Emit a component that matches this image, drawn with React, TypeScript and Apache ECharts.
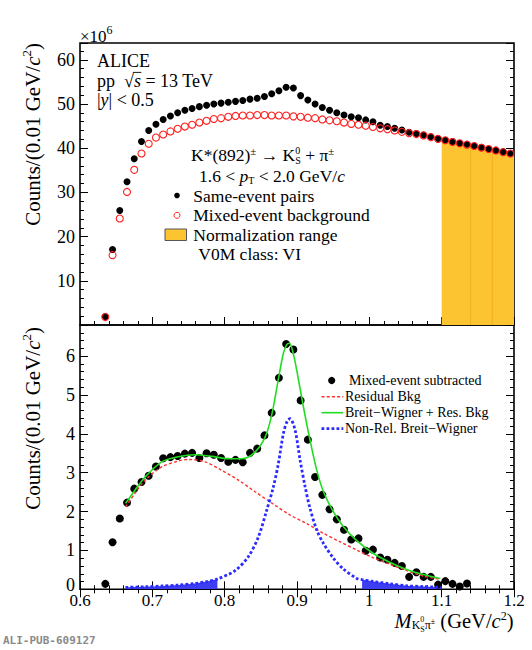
import React, { useEffect, useRef } from "react";
import * as echarts from "echarts";

// ---------- data ----------
const binX = [
  0.635, 0.645, 0.655, 0.665, 0.675, 0.685, 0.695, 0.705, 0.715, 0.725,
  0.735, 0.745, 0.755, 0.765, 0.775, 0.785, 0.795, 0.805, 0.815, 0.825,
  0.835, 0.845, 0.855, 0.865, 0.875, 0.885, 0.895, 0.905, 0.915, 0.925,
  0.935, 0.945, 0.955, 0.965, 0.975, 0.985, 0.995, 1.005, 1.015, 1.025,
  1.035, 1.045, 1.055, 1.065, 1.075, 1.085, 1.095, 1.105, 1.115, 1.125,
  1.135, 1.145, 1.155, 1.165, 1.175, 1.185, 1.195,
];
const sameEvent = [
  1.9, 17.1, 25.9, 32.4, 37.6, 41.5, 44.0, 45.4, 46.5, 47.3,
  48.0, 48.6, 49.0, 49.4, 49.7, 50.0, 50.2, 50.4, 50.6, 50.8,
  51.1, 51.3, 51.7, 52.3, 53.0, 53.8, 53.6, 51.9, 50.9, 50.0,
  49.2, 48.6, 48.0, 47.5, 47.1, 46.9, 46.4, 46.0, 45.2, 44.9,
  44.5, 44.1, 43.6, 43.3, 43.0, 42.6, 42.2, 41.8, 41.5, 41.1,
  40.9, 40.5, 40.2, 39.8, 39.5, 39.2, 38.8,
];
const mixedEvent = [
  1.8, 15.8, 24.1, 30.1, 35.1, 38.8, 41.0, 42.4, 43.1, 43.8,
  44.4, 44.9, 45.3, 45.8, 46.2, 46.6, 46.8, 47.1, 47.3, 47.4,
  47.4, 47.5, 47.5, 47.4, 47.4, 47.4, 47.2, 47.1, 46.9, 46.8,
  46.5, 46.3, 46.1, 45.8, 45.5, 45.3, 45.1, 44.8, 44.5, 44.3,
  44.0, 43.7, 43.4, 43.2, 42.9, 42.5, 42.1, 41.8, 41.4, 41.1,
  40.8, 40.5, 40.1, 39.8, 39.5, 39.1, 38.8,
];
const normRangeX = [1.1, 1.14, 1.17, 1.2];
const normRangeTop = [42.0, 40.7, 39.6, 38.6];

const subX = [
  0.635, 0.645, 0.655, 0.665, 0.675, 0.685, 0.695, 0.705, 0.715, 0.725,
  0.735, 0.745, 0.755, 0.765, 0.775, 0.785, 0.795, 0.805, 0.815, 0.825,
  0.835, 0.845, 0.855, 0.865, 0.875, 0.885, 0.895, 0.905, 0.915, 0.925,
  0.935, 0.945, 0.955, 0.965, 0.975, 0.985, 0.995, 1.005, 1.015, 1.025,
  1.035, 1.045, 1.055, 1.065, 1.075, 1.085, 1.095, 1.105, 1.115, 1.125,
  1.135,
];
const subtracted = [
  0.14, 1.21, 1.82, 2.23, 2.59, 2.76, 2.92, 3.16, 3.37, 3.4,
  3.43, 3.49, 3.51, 3.38, 3.5, 3.46, 3.38, 3.28, 3.33, 3.27,
  3.51, 3.62, 3.96, 4.54, 5.44, 6.31, 6.17, 4.86, 3.85, 2.89,
  2.43, 2.06, 1.8, 1.53, 1.28, 1.31, 0.99, 1.02, 0.82, 0.76,
  0.68, 0.6, 0.32, 0.44, 0.32, 0.32, 0.12, 0.21, 0.14, 0.07,
  0.15,
];

// Residual background (red dashed)
const bkgX = [0.663, 0.676, 0.69, 0.713, 0.736, 0.749, 0.773, 0.796, 0.819, 0.842, 0.865, 0.8905, 0.9135, 0.9366, 0.9596, 0.9827, 1.0057, 1.0288, 1.0518, 1.0749, 1.097];
const bkgY = [2.12, 2.47, 2.81, 3.15, 3.3, 3.34, 3.28, 3.06, 2.81, 2.51, 2.22, 1.91, 1.69, 1.44, 1.22, 1.01, 0.81, 0.64, 0.48, 0.34, 0.26];

// Breit-Wigner + residual background (green)
const fitX = [0.663, 0.676, 0.69, 0.713, 0.736, 0.759, 0.782, 0.805, 0.824, 0.842, 0.856, 0.865, 0.874, 0.881, 0.886, 0.8895, 0.895, 0.8997, 0.9089, 0.9181, 0.9274, 0.9366, 0.9504, 0.9642, 0.9827, 1.0057, 1.0288, 1.0518, 1.0749, 1.098];
const fitY = [2.21, 2.55, 2.89, 3.28, 3.41, 3.46, 3.42, 3.36, 3.36, 3.53, 3.92, 4.48, 5.38, 6.06, 6.3, 6.33, 6.05, 5.63, 4.69, 3.83, 3.06, 2.51, 1.99, 1.61, 1.25, 0.92, 0.69, 0.51, 0.38, 0.28];

// Non-relativistic Breit-Wigner (blue dotted)
const bwX = [0.663, 0.69, 0.713, 0.736, 0.759, 0.775, 0.79, 0.8144, 0.8328, 0.8467, 0.8582, 0.8674, 0.8743, 0.8812, 0.8865, 0.8905, 0.8974, 0.9043, 0.9112, 0.918, 0.9274, 0.9366, 0.9504, 0.9642, 0.9827, 0.99, 1.0057, 1.0288, 1.0518, 1.0749, 1.1];
const bwY = [0.05, 0.065, 0.085, 0.11, 0.15, 0.2, 0.265, 0.48, 0.84, 1.35, 2.04, 2.64, 3.24, 4.01, 4.33, 4.39, 4.09, 3.32, 2.64, 2.08, 1.52, 1.18, 0.8, 0.52, 0.28, 0.25, 0.2, 0.14, 0.09, 0.07, 0.05];
const bwFillRanges = [
  [0.663, 0.79],
  [0.99, 1.1],
];

// ---------- text helpers ----------
const SERIF = '"Liberation Serif", "Times New Roman", serif';
const fontStr = (size: number, italic?: boolean) =>
  `${italic ? "italic " : ""}${size}px ${SERIF}`;
let mctx: CanvasRenderingContext2D | null = null;
function measure(t: string, size: number, italic?: boolean) {
  if (!mctx) mctx = document.createElement("canvas").getContext("2d");
  if (!mctx) return t.length * size * 0.5;
  mctx.font = fontStr(size, italic);
  return mctx.measureText(t).width;
}
function txt(x: number, y: number, text: string, size: number, italic?: boolean, color = "#000") {
  return {
    type: "text",
    x,
    y,
    z: 100,
    silent: true,
    style: {
      text,
      font: fontStr(size, italic),
      fill: color,
      align: "left",
      verticalAlign: "middle",
      textAlign: "left",
      textVerticalAlign: "middle",
    },
  };
}
type Piece = {
  t?: string;
  s?: number;
  i?: boolean;
  dy?: number;
  stack?: [string, string];
  dyA?: number;
  dyB?: number;
  over?: boolean;
};
function seq(x0: number, y: number, base: number, pieces: Piece[]) {
  const els: any[] = [];
  let x = x0;
  for (const p of pieces) {
    const size = p.s ?? base;
    if (p.stack) {
      const [a, b] = p.stack;
      els.push(txt(x, y + (p.dyA ?? 0), a, size));
      els.push(txt(x, y + (p.dyB ?? 0), b, size));
      x += Math.max(measure(a, size), measure(b, size));
      continue;
    }
    const t = p.t ?? "";
    const w = measure(t, size, p.i);
    els.push(txt(x, y + (p.dy ?? 0), t, size, p.i));
    if (p.over) {
      const ly = y - size * 0.45;
      els.push({
        type: "line",
        z: 100,
        silent: true,
        shape: { x1: x - 1, y1: ly, x2: x + w + 0.5, y2: ly },
        style: { stroke: "#000", lineWidth: 0.9 },
      });
    }
    x += w;
  }
  return { els, w: x - x0 };
}
function vTitle(cx: number, topY: number, base: number, pieces: Piece[]) {
  const r = seq(0, 0, base, pieces);
  return {
    type: "group",
    x: cx,
    y: topY + r.w,
    rotation: Math.PI / 2,
    children: r.els,
  };
}

const countsTitle: Piece[] = [
  { t: "Counts/(0.01 GeV/" },
  { t: "c", i: true },
  { t: "2", s: 13, dy: -7 },
  { t: ")" },
];

export default function App() {
  const ref = useRef<HTMLDivElement>(null);
  useEffect(() => {
    if (!ref.current) return;
    const chart = echarts.init(ref.current, undefined, { renderer: "svg" });
    const pairs = (xs: number[], ys: number[]) => xs.map((x, i) => [x, ys[i]]);

    const tickStyle = { show: true, inside: true, length: 8, lineStyle: { color: "#000", width: 1 } };
    const minorStyle = { show: true, splitNumber: 5, length: 4, lineStyle: { color: "#000", width: 1 } };
    const labelFont = { color: "#000", fontFamily: SERIF, fontSize: 18 };

    const xBase = {
      type: "value",
      min: 0.6,
      max: 1.2,
      interval: 0.1,
      axisLine: { show: false },
      axisTick: tickStyle,
      minorTick: minorStyle,
      splitLine: { show: false },
      minorSplitLine: { show: false },
    };

    const topY = {
      type: "value",
      gridIndex: 0,
      min: 0,
      max: 63.8,
      interval: 10,
      axisLine: { show: false },
      axisTick: tickStyle,
      minorTick: minorStyle,
      splitLine: { show: false },
    };
    const botY = {
      type: "value",
      gridIndex: 1,
      min: 0,
      max: 6.8,
      interval: 1,
      axisLine: { show: false },
      axisTick: tickStyle,
      minorTick: minorStyle,
      splitLine: { show: false },
    };

    // graphic texts
    const g: any[] = [];
    g.push(...seq(80, 36, 17, [{ t: "×10" }, { t: "6", s: 12, dy: -6 }]).els);
    g.push(txt(97, 61, "ALICE", 18));
    g.push(
      ...seq(97, 80.5, 18, [
        { t: "pp  √" },
        { t: "s", i: true, over: true },
        { t: " = 13 TeV" },
      ]).els
    );
    g.push(...seq(97, 100, 18, [{ t: "|" }, { t: "y", i: true }, { t: "| < 0.5" }]).els);

    g.push(
      ...seq(191, 155, 17.5, [
        { t: "K*(892)" },
        { t: "±", s: 11, dy: -4.5 },
        { t: " → K" },
        { stack: ["0", "S"], s: 10, dyA: -5, dyB: 5.5 },
        { t: " + π" },
        { t: "±", s: 11, dy: -4.5 },
      ]).els
    );
    g.push(
      ...seq(199, 176, 17.5, [
        { t: "1.6 < " },
        { t: "p", i: true },
        { t: "T", s: 10, dy: 4.5 },
        { t: " < 2.0 GeV/" },
        { t: "c", i: true },
      ]).els
    );
    g.push({ type: "circle", z: 100, shape: { cx: 177, cy: 195.5, r: 2.8 }, style: { fill: "#000" } });
    g.push(txt(193.3, 195.5, "Same-event pairs", 17.5));
    g.push({
      type: "circle",
      z: 100,
      shape: { cx: 177, cy: 215.3, r: 3 },
      style: { fill: "none", stroke: "#ff2020", lineWidth: 1 },
    });
    g.push(txt(193.3, 215.3, "Mixed-event background", 17.5));
    g.push({
      type: "rect",
      z: 100,
      shape: { x: 165, y: 229, width: 21.5, height: 11.5 },
      style: { fill: "#fdc432", stroke: "#555", lineWidth: 1 },
    });
    g.push(txt(193.3, 234.8, "Normalization range", 17.5));
    g.push(txt(198.3, 254.3, "V0M class: VI", 17.5));

    // bottom legend
    g.push({ type: "circle", z: 100, shape: { cx: 331.7, cy: 380.5, r: 3.6 }, style: { fill: "#000" } });
    g.push(txt(349, 380.5, "Mixed-event subtracted", 14));
    g.push({
      type: "line",
      z: 100,
      shape: { x1: 321.5, y1: 396.7, x2: 343.3, y2: 396.7 },
      style: { stroke: "#ff3030", lineWidth: 1.4, lineDash: [3, 2.2] },
    });
    g.push(txt(345, 396.7, "Residual Bkg", 14));
    g.push({
      type: "line",
      z: 100,
      shape: { x1: 321.5, y1: 412.7, x2: 343.3, y2: 412.7 },
      style: { stroke: "#22dd22", lineWidth: 1.6 },
    });
    g.push(txt(345, 412.7, "Breit−Wigner + Res. Bkg", 14));
    g.push({
      type: "line",
      z: 100,
      shape: { x1: 321.5, y1: 428.7, x2: 343.3, y2: 428.7 },
      style: { stroke: "#2b2bff", lineWidth: 2.8, lineDash: [2.8, 2.2] },
    });
    g.push(txt(345, 428.7, "Non-Rel. Breit−Wigner", 14));

    // axis titles
    g.push(vTitle(33, 43, 21, countsTitle));
    g.push(vTitle(33, 327, 21, countsTitle));
    const xt: Piece[] = [
      { t: "M", i: true },
      { t: "K", s: 12, dy: 4.5 },
      { stack: ["0", "S"], s: 8, dyA: -1, dyB: 9 },
      { t: "π", s: 12, dy: 4.5 },
      { t: "±", s: 8, dy: 1 },
      { t: " (GeV/" },
      { t: "c", i: true },
      { t: "2", s: 12, dy: -4.5 },
      { t: ")" },
    ];
    const xtW = seq(0, 0, 20.5, xt).w;
    g.push(...seq(513.5 - xtW, 620.5, 20.5, xt).els);

    g.push({
      type: "text",
      x: 3,
      y: 640,
      z: 100,
      style: {
        text: "ALI-PUB-609127",
        font: 'bold 11px "DejaVu Sans Mono", monospace',
        fill: "#8a8a8a",
        align: "left",
        verticalAlign: "middle",
        textAlign: "left",
        textVerticalAlign: "middle",
      },
    });

    const fillSeries = bwFillRanges.map((r) => ({
      type: "line",
      xAxisIndex: 1,
      yAxisIndex: 2,
      data: pairs(bwX, bwY).filter((p) => p[0] >= r[0] - 1e-9 && p[0] <= r[1] + 1e-9),
      symbol: "none",
      smooth: 0.3,
      lineStyle: { width: 0 },
      areaStyle: { color: "#3d3df2", opacity: 1 },
      z: 1,
      silent: true,
    }));

    const option: any = {
      animation: false,
      backgroundColor: "#fff",
      grid: [
        { left: 80, top: 43, width: 434, height: 282, show: true, borderColor: "#000", borderWidth: 1.6, backgroundColor: "transparent" },
        { left: 80, top: 325, width: 434, height: 264.3, show: true, borderColor: "#000", borderWidth: 1.6, backgroundColor: "transparent" },
      ],
      xAxis: [
        { ...xBase, gridIndex: 0, position: "bottom", axisLabel: { show: false } },
        {
          ...xBase,
          gridIndex: 1,
          position: "bottom",
          axisLabel: { ...labelFont, fontSize: 17, margin: 3, formatter: (v: number) => String(Math.round(v * 10) / 10) },
        },
        { ...xBase, gridIndex: 1, position: "top", axisLabel: { show: false } },
      ],
      yAxis: [
        {
          ...topY,
          position: "left",
          axisLabel: {
            ...labelFont,
            margin: 5,
            formatter: (v: number) =>
              v > 0 && Math.abs(v / 10 - Math.round(v / 10)) < 1e-6 ? String(Math.round(v)) : "",
          },
        },
        { ...topY, position: "right", axisLabel: { show: false } },
        {
          ...botY,
          position: "left",
          axisLabel: {
            ...labelFont,
            margin: 5,
            formatter: (v: number) =>
              Math.abs(v) < 1e-6 ? "{z|0}" : Math.abs(v - Math.round(v)) < 1e-6 ? String(Math.round(v)) : "",
            rich: { z: { fontFamily: SERIF, fontSize: 18, color: "#000", padding: [0, 0, 8, 0] } },
          },
        },
        { ...botY, position: "right", axisLabel: { show: false } },
      ],
      series: [
        {
          type: "line",
          xAxisIndex: 0,
          yAxisIndex: 0,
          data: pairs(normRangeX, normRangeTop),
          symbol: "none",
          lineStyle: { width: 0 },
          areaStyle: { color: "#fdc432", opacity: 1 },
          z: 1,
          silent: true,
        },
        ...[1, 2].map((k) => ({
          type: "line",
          xAxisIndex: 0,
          yAxisIndex: 0,
          data: [
            [normRangeX[k], 0],
            [normRangeX[k], normRangeTop[k]],
          ],
          symbol: "none",
          lineStyle: { width: 1, color: "#f0b01e" },
          z: 1,
          silent: true,
        })),
        {
          type: "scatter",
          xAxisIndex: 0,
          yAxisIndex: 0,
          data: pairs(binX, sameEvent),
          symbol: "circle",
          symbolSize: 7,
          itemStyle: { color: "#000", opacity: 1 },
          z: 3,
          silent: true,
        },
        {
          type: "scatter",
          xAxisIndex: 0,
          yAxisIndex: 0,
          data: pairs(binX, mixedEvent),
          symbol: "circle",
          symbolSize: 7,
          itemStyle: { color: "rgba(0,0,0,0)", borderColor: "#ff2020", borderWidth: 1.1, opacity: 1 },
          z: 4,
          silent: true,
        },
        ...fillSeries,
        {
          type: "scatter",
          xAxisIndex: 1,
          yAxisIndex: 2,
          data: pairs(subX, subtracted),
          symbol: "circle",
          symbolSize: 8,
          itemStyle: { color: "#000", opacity: 1 },
          z: 2,
          silent: true,
        },
        {
          type: "line",
          xAxisIndex: 1,
          yAxisIndex: 2,
          data: pairs(bkgX, bkgY),
          symbol: "none",
          smooth: 0.3,
          lineStyle: { color: "#ff3030", width: 1.4, type: [3, 2.2] },
          z: 3,
          silent: true,
        },
        {
          type: "line",
          xAxisIndex: 1,
          yAxisIndex: 2,
          data: pairs(fitX, fitY),
          symbol: "none",
          smooth: 0.3,
          lineStyle: { color: "#22dd22", width: 1.6 },
          z: 3,
          silent: true,
        },
        {
          type: "line",
          xAxisIndex: 1,
          yAxisIndex: 2,
          data: pairs(bwX, bwY),
          symbol: "none",
          smooth: 0.3,
          lineStyle: { color: "#2b2bff", width: 2.8, type: [2.8, 2.2] },
          z: 3,
          silent: true,
        },
      ],
      graphic: { elements: g },
    };
    chart.setOption(option);
    return () => chart.dispose();
  }, []);
  return (
    <div
      ref={ref}
      style={{ position: "fixed", left: 0, top: 0, width: 532, height: 650, background: "#fff" }}
    />
  );
}
